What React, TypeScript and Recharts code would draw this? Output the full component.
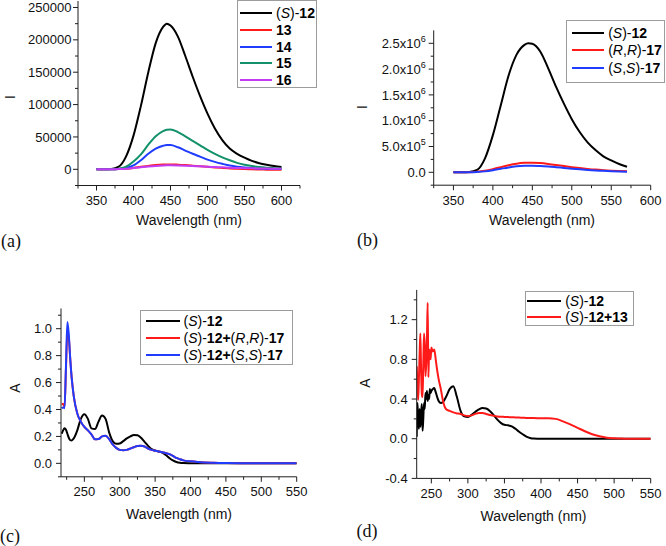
import { Legend, Line, LineChart, XAxis, YAxis } from "recharts"

const AXIS = "#1e1e1e"
const SANS = "'Liberation Sans', Arial, sans-serif"
const SERIF = "'Liberation Serif', 'Times New Roman', serif"

// (a) fluorescence of (S)-12 with 13-16
const aWave = [350, 360, 370, 380, 390, 400, 410, 420, 430, 440, 445, 450, 460, 470, 480, 490, 500, 510, 520, 530, 540, 550, 560, 570, 580, 590, 600]
const aS12 = [0, 0, 500, 4000, 20000, 52000, 98000, 150000, 195000, 220000, 225000, 222000, 205000, 175000, 143000, 113000, 86000, 63000, 45000, 32000, 24000, 18000, 13000, 9500, 7000, 5000, 3500]
const a13 = [0, 0, 0, 300, 1000, 2200, 3800, 5300, 6600, 7400, 7600, 7600, 7200, 6500, 5600, 4700, 3800, 2900, 2100, 1400, 800, 300, 0, -300, -500, -600, -700]
const a14 = [0, 0, 0, 500, 2000, 6000, 14000, 24000, 32000, 36500, 37500, 37500, 34000, 29000, 24000, 19500, 15000, 11500, 8500, 5800, 4000, 2800, 1900, 1300, 900, 600, 400]
const a15 = [0, 0, 0, 1000, 4000, 12000, 23000, 38000, 51000, 59000, 61000, 61500, 57500, 51000, 44000, 37000, 30000, 24000, 18500, 14000, 10000, 7000, 5000, 3500, 2500, 1800, 1200]
const a16 = [0, 0, 0, 300, 900, 1900, 3100, 4300, 5300, 6000, 6200, 6200, 6000, 5600, 5100, 4600, 4000, 3500, 3000, 2500, 2100, 1800, 1500, 1300, 1100, 1000, 900]
const aXTicks = [325, 350, 375, 400, 425, 450, 475, 500, 525, 550, 575, 600, 625]
const aXLabels = [350, 400, 450, 500, 550, 600]
const aYTicks = [-25000, 0, 25000, 50000, 75000, 100000, 125000, 150000, 175000, 200000, 225000, 250000]
const aYLabels = [0, 50000, 100000, 150000, 200000, 250000]

// (b) fluorescence of (S)-12 and both 17
const bWave = [350, 360, 370, 380, 390, 400, 410, 420, 430, 440, 445, 450, 460, 470, 480, 490, 500, 510, 520, 530, 540, 550, 560, 570]
const bS12 = [0, 0, 5000, 45000, 270000, 720000, 1300000, 1880000, 2280000, 2470000, 2500000, 2490000, 2340000, 2020000, 1660000, 1330000, 1030000, 780000, 580000, 430000, 310000, 230000, 160000, 108000]
const bRR17 = [0, 0, 2000, 10000, 30000, 62000, 100000, 138000, 167000, 183000, 186000, 186000, 178000, 162000, 142000, 120000, 100000, 82000, 66000, 52000, 41000, 32000, 25000, 20000]
const bSS17 = [0, 0, 1000, 6000, 18000, 40000, 68000, 95000, 115000, 126000, 128000, 128000, 122000, 112000, 99000, 85000, 71000, 58000, 46000, 36000, 28000, 21000, 15000, 11000]
const bXTicks = [325, 350, 375, 400, 425, 450, 475, 500, 525, 550, 575, 600]
const bXLabels = [350, 400, 450, 500, 550, 600]
const bYTicks = [-250000, 0, 250000, 500000, 750000, 1000000, 1250000, 1500000, 1750000, 2000000, 2250000, 2500000]
const bYLabels = [0, 500000, 1000000, 1500000, 2000000, 2500000]

// (c) absorption
const cWave = [218, 220, 222, 224, 226, 228, 230, 232, 235, 240, 245, 250, 255, 260, 265, 270, 275, 280, 285, 290, 295, 300, 305, 310, 315, 320, 325, 330, 335, 340, 345, 350, 355, 360, 365, 370, 375, 380, 385, 390, 400, 410, 420, 430, 440, 450, 475, 500, 525, 550]
const cS12 = [0.22, 0.245, 0.26, 0.25, 0.22, 0.19, 0.172, 0.17, 0.185, 0.245, 0.33, 0.365, 0.33, 0.26, 0.255, 0.31, 0.355, 0.33, 0.23, 0.165, 0.145, 0.148, 0.165, 0.185, 0.2, 0.21, 0.208, 0.19, 0.16, 0.13, 0.105, 0.095, 0.088, 0.08, 0.062, 0.04, 0.022, 0.01, 0.004, 0.002, 0.001, 0, 0, 0, 0, 0, 0, 0, 0, 0]
const cS12RR = [0.44, 0.44, 0.42, 0.7, 0.97, 0.93, 0.78, 0.64, 0.5, 0.37, 0.31, 0.27, 0.245, 0.215, 0.178, 0.18, 0.2, 0.205, 0.18, 0.14, 0.115, 0.1, 0.097, 0.1, 0.11, 0.12, 0.128, 0.13, 0.125, 0.11, 0.1, 0.094, 0.088, 0.082, 0.076, 0.068, 0.055, 0.04, 0.03, 0.022, 0.015, 0.01, 0.007, 0.005, 0.003, 0.002, 0.001, 0, 0, 0]
const cS12SS = [0.41, 0.415, 0.41, 0.72, 1.05, 0.96, 0.78, 0.64, 0.5, 0.37, 0.31, 0.27, 0.245, 0.215, 0.178, 0.18, 0.2, 0.205, 0.18, 0.14, 0.115, 0.1, 0.097, 0.1, 0.11, 0.12, 0.128, 0.13, 0.125, 0.11, 0.1, 0.094, 0.088, 0.082, 0.076, 0.068, 0.055, 0.04, 0.03, 0.022, 0.015, 0.01, 0.007, 0.005, 0.003, 0.002, 0.001, 0, 0, 0]
const cXTicks = [225, 250, 275, 300, 325, 350, 375, 400, 425, 450, 475, 500, 525, 550]
const cXLabels = [250, 300, 350, 400, 450, 500, 550]
const cYTicks = [-0.1, 0, 0.1, 0.2, 0.3, 0.4, 0.5, 0.6, 0.7, 0.8, 0.9, 1.0, 1.1]
const cYLabels = [0, 0.2, 0.4, 0.6, 0.8, 1.0]

// (d) absorption of (S)-12 with 13
const dWave = [230, 231, 232, 233, 234, 235, 236, 237, 238, 239, 240, 241, 242, 243, 244, 245, 246, 247, 248, 249, 250, 252, 254, 256, 258, 260, 263, 266, 270, 275, 280, 285, 290, 295, 300, 305, 310, 315, 320, 325, 330, 335, 340, 345, 350, 355, 360, 365, 370, 375, 380, 385, 390, 400, 410, 420, 430, 440, 450, 460, 470, 480, 490, 500, 510, 525, 550]
const dS12 = [0.02, 0.36, 0.2, 0.1, 0.3, 0.12, 0.25, 0.35, 0.08, 0.2, 0.36, 0.3, 0.46, 0.4, 0.48, 0.38, 0.44, 0.4, 0.5, 0.46, 0.48, 0.5, 0.51, 0.47, 0.42, 0.38, 0.36, 0.37, 0.42, 0.5, 0.53, 0.42, 0.28, 0.225, 0.22, 0.24, 0.27, 0.295, 0.31, 0.305, 0.28, 0.24, 0.195, 0.16, 0.14, 0.135, 0.125, 0.1, 0.07, 0.045, 0.022, 0.008, 0.002, 0, 0, 0, 0, 0, 0, 0, 0, 0, 0, 0, 0, 0, 0]
const dS12p13 = [0.73, 0.55, 0.39, 0.6, 0.85, 1.06, 0.7, 0.45, 0.42, 0.75, 1.06, 0.95, 0.63, 0.75, 1.0, 1.37, 0.62, 0.9, 0.85, 0.8, 0.92, 0.88, 0.9, 0.8, 0.69, 0.6, 0.5, 0.38, 0.3, 0.28, 0.265, 0.255, 0.25, 0.235, 0.228, 0.235, 0.25, 0.26, 0.26, 0.25, 0.24, 0.232, 0.225, 0.222, 0.22, 0.218, 0.216, 0.215, 0.213, 0.212, 0.21, 0.21, 0.208, 0.206, 0.206, 0.2, 0.175, 0.145, 0.11, 0.075, 0.045, 0.024, 0.01, 0.004, 0.001, 0, 0]
const dXTicks = [250, 275, 300, 325, 350, 375, 400, 425, 450, 475, 500, 525, 550]
const dXLabels = [250, 300, 350, 400, 450, 500, 550]
const dYTicks = [-0.4, -0.2, 0, 0.2, 0.4, 0.6, 0.8, 1.0, 1.2, 1.4]
const dYLabels = [-0.4, 0, 0.4, 0.8, 1.2]

const aData = aWave.map((wl, i) => ({ wl, s12: aS12[i], c13: a13[i], c14: a14[i], c15: a15[i], c16: a16[i] }))
const bData = bWave.map((wl, i) => ({ wl, s12: bS12[i], rr: bRR17[i], ss: bSS17[i] }))
const cData = cWave.map((wl, i) => ({ wl, s12: cS12[i], rr: cS12RR[i], ss: cS12SS[i] }))
const dData = dWave.map((wl, i) => ({ wl, s12: dS12[i], s13: dS12p13[i] }))

// digits and "+" bold, R/S italic, the rest plain
function rich(s: string) {
  const runs: { t: string; k: string }[] = []
  for (const ch of s) {
    const k = /[0-9+]/.test(ch) ? "b" : /[RS]/.test(ch) ? "i" : "n"
    const last = runs[runs.length - 1]
    if (last && last.k === k) last.t += ch
    else runs.push({ t: ch, k })
  }
  return runs.map((r, i) => (
    <span key={i} style={{ fontWeight: r.k === "b" ? 700 : 400, fontStyle: r.k === "i" ? "italic" : "normal" }}>
      {r.t}
    </span>
  ))
}

type Box = { w: number; h: number; rowH: number; padTop: number; padLeft: number; lineW: number; order: string[] }

// recharts 3 sorts legend items, so put them back in series order
const legendBox = (box: Box) => (props: any) => {
  const items = [...(props.payload || [])].sort(
    (p: any, q: any) => box.order.indexOf(p.dataKey) - box.order.indexOf(q.dataKey)
  )
  return (
    <div
      style={{
        width: box.w,
        height: box.h,
        boxSizing: "border-box",
        border: "1px solid #9c9c9c",
        background: "#fff",
        paddingTop: box.padTop,
        paddingLeft: box.padLeft,
        fontFamily: SANS,
        fontSize: 14,
        color: "#000",
      }}
    >
      {items.map((e: any) => (
        <div key={e.value} style={{ display: "flex", alignItems: "center", height: box.rowH }}>
          <span style={{ display: "inline-block", width: box.lineW, height: 2, background: e.color, marginRight: 4 }} />
          <span style={{ whiteSpace: "nowrap" }}>{rich(e.value)}</span>
        </div>
      ))}
    </div>
  )
}

const xTick = (labels: number[]) => (p: any) => {
  const v = p.payload.value
  const major = labels.includes(v)
  return (
    <g>
      <line x1={p.x} x2={p.x} y1={p.y} y2={p.y + (major ? 5 : 3)} stroke={AXIS} />
      {major && (
        <text x={p.x} y={p.y + 19.5} textAnchor="middle" fontSize={13} fontFamily={SANS} fill="#111">
          {v}
        </text>
      )}
    </g>
  )
}

const yTick = (labels: number[], fmt: (v: number) => any, gap = 8) => (p: any) => {
  const v = p.payload.value
  const major = labels.includes(v)
  return (
    <g>
      <line x1={p.x} x2={p.x - (major ? 5 : 3)} y1={p.y} y2={p.y} stroke={AXIS} />
      {major && (
        <text x={p.x - gap} y={p.y + 4.6} textAnchor="end" fontSize={13} fontFamily={SANS} fill="#111">
          {fmt(v)}
        </text>
      )}
    </g>
  )
}

const plain = (v: number) => String(v)
const oneDec = (v: number) => v.toFixed(1)
const sci = (v: number) => {
  if (v === 0) return "0.0"
  const e = Math.floor(Math.log10(v))
  return (
    <>
      {(v / Math.pow(10, e)).toFixed(1)}x10
      <tspan dy={-6} fontSize={9}>
        {e}
      </tspan>
    </>
  )
}

function Txt({ x, y, children, size = 14, font = SANS, rotate = false }: any) {
  return (
    <div
      style={{
        position: "absolute",
        left: x,
        top: y,
        transform: `translate(-50%, -50%)${rotate ? " rotate(-90deg)" : ""}`,
        fontFamily: font,
        fontSize: size,
        whiteSpace: "nowrap",
        color: "#111",
        lineHeight: 1,
      }}
    >
      {children}
    </div>
  )
}

const axisProps = { axisLine: { stroke: AXIS }, tickSize: 0, tickMargin: 0, interval: 0 as const, allowDataOverflow: true }

export default function App() {
  return (
    <div style={{ position: "absolute", left: 0, top: 0, width: 666, height: 546, background: "#fff", overflow: "hidden" }}>
      {/* (a) */}
      <div style={{ position: "absolute", left: 0, top: 0 }}>
        <LineChart width={333} height={273} data={aData} margin={{ top: 1, right: 33, bottom: 57.5, left: 18 }}>
          <XAxis dataKey="wl" type="number" domain={[325, 625]} ticks={aXTicks} height={30} tick={xTick(aXLabels)} {...axisProps} />
          <YAxis type="number" domain={[-25000, 260000]} ticks={aYTicks} width={60} tick={yTick(aYLabels, plain, 6.5)} {...axisProps} />
          <Line dataKey="s12" name="(S)-12" type="monotone" stroke="#000" strokeWidth={2} dot={false} isAnimationActive={false} />
          <Line dataKey="c13" name="13" type="monotone" stroke="#ff1a1a" strokeWidth={2} dot={false} isAnimationActive={false} />
          <Line dataKey="c14" name="14" type="monotone" stroke="#1f3cff" strokeWidth={2} dot={false} isAnimationActive={false} />
          <Line dataKey="c15" name="15" type="monotone" stroke="#12916a" strokeWidth={2} dot={false} isAnimationActive={false} />
          <Line dataKey="c16" name="16" type="monotone" stroke="#c23cf5" strokeWidth={2} dot={false} isAnimationActive={false} />
          <Legend
            layout="horizontal"
            verticalAlign="middle"
            align="center"
            wrapperStyle={{ left: 237, top: 0, width: "auto" }}
            content={legendBox({ w: 80, h: 88, rowH: 16.7, padTop: 4, padLeft: 2, lineW: 32, order: ["s12", "c13", "c14", "c15", "c16"] })}
          />
        </LineChart>
      </div>

      {/* (b) */}
      <div style={{ position: "absolute", left: 333, top: 0 }}>
        <LineChart width={333} height={273} data={bData} margin={{ top: 30.4, right: 15.3, bottom: 57.8, left: 40.7 }}>
          <XAxis dataKey="wl" type="number" domain={[325, 600]} ticks={bXTicks} height={30} tick={xTick(bXLabels)} {...axisProps} />
          <YAxis type="number" domain={[-250000, 2750000]} ticks={bYTicks} width={60} tick={yTick(bYLabels, sci, 8)} {...axisProps} />
          <Line dataKey="s12" name="(S)-12" type="monotone" stroke="#000" strokeWidth={2} dot={false} isAnimationActive={false} />
          <Line dataKey="rr" name="(R,R)-17" type="monotone" stroke="#ff1a1a" strokeWidth={2} dot={false} isAnimationActive={false} />
          <Line dataKey="ss" name="(S,S)-17" type="monotone" stroke="#1f3cff" strokeWidth={2} dot={false} isAnimationActive={false} />
          <Legend
            layout="horizontal"
            verticalAlign="middle"
            align="center"
            wrapperStyle={{ left: 232.7, top: 20, width: "auto" }}
            content={legendBox({ w: 99, h: 63, rowH: 17.5, padTop: 3, padLeft: 5.5, lineW: 32, order: ["s12", "rr", "ss"] })}
          />
        </LineChart>
      </div>

      {/* (c) */}
      <div style={{ position: "absolute", left: 0, top: 273 }}>
        <LineChart width={333} height={273} data={cData} margin={{ top: 35.5, right: 36.3, bottom: 39.2, left: 1 }}>
          <XAxis dataKey="wl" type="number" domain={[217, 550]} ticks={cXTicks} height={30} tick={xTick(cXLabels)} {...axisProps} />
          <YAxis type="number" domain={[-0.1, 1.15]} ticks={cYTicks} width={60} tick={yTick(cYLabels, oneDec, 9)} {...axisProps} />
          <Line dataKey="s12" name="(S)-12" type="monotone" stroke="#000" strokeWidth={2} dot={false} isAnimationActive={false} />
          <Line dataKey="rr" name="(S)-12+(R,R)-17" type="monotone" stroke="#ff1a1a" strokeWidth={2} dot={false} isAnimationActive={false} />
          <Line dataKey="ss" name="(S)-12+(S,S)-17" type="monotone" stroke="#1f3cff" strokeWidth={2} dot={false} isAnimationActive={false} />
          <Legend
            layout="horizontal"
            verticalAlign="middle"
            align="center"
            wrapperStyle={{ left: 140, top: 37.3, width: "auto" }}
            content={legendBox({ w: 153.3, h: 54.4, rowH: 17, padTop: 1.5, padLeft: 4.5, lineW: 34, order: ["s12", "rr", "ss"] })}
          />
        </LineChart>
      </div>

      {/* (d) */}
      <div style={{ position: "absolute", left: 333, top: 273 }}>
        <LineChart width={333} height={273} data={dData} margin={{ top: 16.9, right: 15.3, bottom: 37.6, left: 23.7 }}>
          <XAxis dataKey="wl" type="number" domain={[230, 550]} ticks={dXTicks} height={30} tick={xTick(dXLabels)} {...axisProps} />
          <YAxis type="number" domain={[-0.4, 1.5]} ticks={dYTicks} width={60} tick={yTick(dYLabels, oneDec, 9)} {...axisProps} />
          <Line dataKey="s12" name="(S)-12" type="monotone" stroke="#000" strokeWidth={2} dot={false} isAnimationActive={false} />
          <Line dataKey="s13" name="(S)-12+13" type="monotone" stroke="#ff1a1a" strokeWidth={2} dot={false} isAnimationActive={false} />
          <Legend
            layout="horizontal"
            verticalAlign="middle"
            align="center"
            wrapperStyle={{ left: 191.7, top: 18.3, width: "auto" }}
            content={legendBox({ w: 109.3, h: 34.4, rowH: 16.5, padTop: 0, padLeft: 1.5, lineW: 34, order: ["s12", "s13"] })}
          />
        </LineChart>
      </div>

      <Txt x={189} y={220}>Wavelength (nm)</Txt>
      <Txt x={542} y={220}>Wavelength (nm)</Txt>
      <Txt x={179} y={514}>Wavelength (nm)</Txt>
      <Txt x={533.5} y={516}>Wavelength (nm)</Txt>
      <Txt x={10} y={97} rotate>I</Txt>
      <Txt x={362} y={107} rotate>I</Txt>
      <Txt x={15} y={388} rotate>A</Txt>
      <Txt x={365} y={383} rotate>A</Txt>
      <Txt x={11} y={241} size={18} font={SERIF}>(a)</Txt>
      <Txt x={367.5} y={239.5} size={18} font={SERIF}>(b)</Txt>
      <Txt x={10} y={536} size={18} font={SERIF}>(c)</Txt>
      <Txt x={367} y={531} size={18} font={SERIF}>(d)</Txt>
    </div>
  )
}
